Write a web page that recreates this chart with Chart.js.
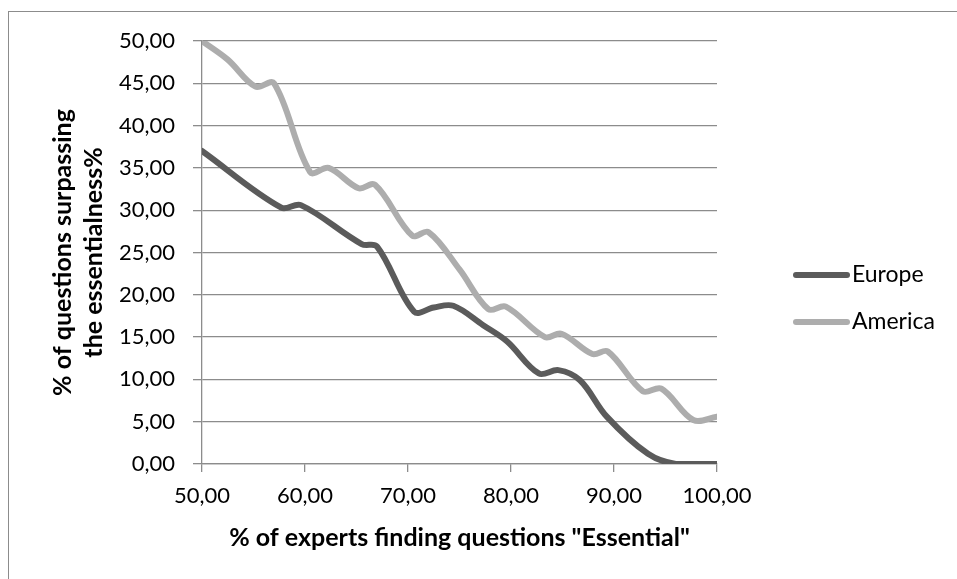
<!DOCTYPE html>
<html>
<head>
<meta charset="utf-8">
<script src="https://cdn.jsdelivr.net/npm/chart.js@4.4.1/dist/chart.umd.min.js"></script>
<style>
  html, body { margin: 0; padding: 0; background: #ffffff; }
  #wrap { position: relative; width: 957px; height: 579px; }
</style>
</head>
<body>
<div id="wrap"><canvas id="c" width="957" height="579"></canvas></div>
<script>
// ---- data ----
const seriesNames = ['Europe', 'America'];
const europeX = [50, 57.7, 59.6, 65.5, 67, 70.6, 72.5, 74.4, 77.3, 79.6, 82.7, 84.6, 86.7, 89.3, 93.3, 96, 100];
const europeY = [37, 30.3, 30.6, 26, 25.7, 18, 18.5, 18.7, 16.4, 14.5, 10.7, 11.1, 9.9, 5.6, 1.2, 0, 0];
const americaX = [50, 52.5, 55.2, 57, 60.5, 62.3, 65.2, 66.8, 70.4, 72, 75, 77.8, 79.5, 83.3, 84.9, 87.9, 89.4, 92.8, 94.6, 97.7, 100];
const americaY = [50, 47.8, 44.6, 45, 34.5, 35, 32.6, 33, 27, 27.4, 23, 18.3, 18.6, 15, 15.4, 13, 13.3, 8.6, 8.9, 5.2, 5.6];
const xTicks = [50, 60, 70, 80, 90, 100];
const yTicks = [0, 5, 10, 15, 20, 25, 30, 35, 40, 45, 50];
const xTitle = '% of experts finding questions "Essential"';
const yTitle = ['% of questions surpassing', 'the essentialness%'];

const colors = ['#5b5b5b', '#adadad'];
const FONT = 'Lato, "Open Sans", sans-serif';
const gridColor = '#8c8c8c';

function toPts(xs, ys) { return xs.map((x, i) => ({ x: x, y: ys[i] })); }
function fmt(v) { return Number(v).toFixed(2).replace('.', ','); }

const frame = {
  id: 'frame',
  beforeDraw(chart) {
    const ctx = chart.ctx;
    ctx.save();
    ctx.strokeStyle = '#8c8c8c';
    ctx.lineWidth = 1;
    ctx.strokeRect(8.5, 11.5, 1200, 1200);
    ctx.restore();
  }
};

const legendPlugin = {
  id: 'customLegend',
  afterDraw(chart) {
    const ctx = chart.ctx;
    ctx.save();
    const ys = [275, 322];
    chart.data.datasets.forEach((ds, i) => {
      ctx.strokeStyle = ds.borderColor;
      ctx.lineWidth = 6;
      ctx.lineCap = 'round';
      ctx.beginPath();
      ctx.moveTo(796, ys[i]);
      ctx.lineTo(847, ys[i]);
      ctx.stroke();
      ctx.fillStyle = '#000';
      ctx.font = '23px ' + FONT;
      ctx.textBaseline = 'middle';
      ctx.textAlign = 'left';
      ctx.fillText(ds.label, 852, ys[i]);
    });
    ctx.restore();
  }
};

new Chart(document.getElementById('c'), {
  type: 'scatter',
  data: {
    datasets: [
      { label: seriesNames[0], data: toPts(europeX, europeY), borderColor: colors[0], backgroundColor: colors[0] },
      { label: seriesNames[1], data: toPts(americaX, americaY), borderColor: colors[1], backgroundColor: colors[1] }
    ]
  },
  options: {
    responsive: false,
    animation: false,
    showLine: true,
    layout: { padding: { left: 0, right: 240, top: 41, bottom: 0 } },
    elements: {
      line: { borderWidth: 6, tension: 0.35, borderCapStyle: 'round', borderJoinStyle: 'round' },
      point: { radius: 0, hoverRadius: 0 }
    },
    plugins: { legend: { display: false }, tooltip: { enabled: false } },
    scales: {
      x: {
        type: 'linear', min: 50, max: 100,
        afterBuildTicks(scale) { scale.ticks = xTicks.map(v => ({ value: v })); },
        afterFit(scale) { scale.height = 115; },
        grid: { drawOnChartArea: false, drawTicks: true, tickLength: 8, color: gridColor, lineWidth: 1.3 },
        border: { color: gridColor, width: 1.3 },
        ticks: { color: '#000', font: { family: FONT, size: 22 }, padding: 11, maxRotation: 0, callback: v => fmt(v) },
        title: { display: true, text: xTitle, color: '#000', font: { family: FONT, size: 25, weight: 'bold' }, padding: { top: 0, bottom: 26 } }
      },
      y: {
        type: 'linear', min: 0, max: 50,
        afterBuildTicks(scale) { scale.ticks = yTicks.map(v => ({ value: v })); },
        afterFit(scale) { scale.width = 202; },
        grid: { drawOnChartArea: true, drawTicks: true, tickLength: 9, color: gridColor, lineWidth: 1.3 },
        border: { color: gridColor, width: 1.3 },
        ticks: { color: '#000', font: { family: FONT, size: 22 }, padding: 18, callback: v => fmt(v) },
        title: { display: true, text: yTitle, color: '#000', font: { family: FONT, size: 25, weight: 'bold', lineHeight: 1.24 }, padding: { top: 47, bottom: 0 } }
      }
    }
  },
  plugins: [frame, legendPlugin]
});
</script>
</body>
</html>
